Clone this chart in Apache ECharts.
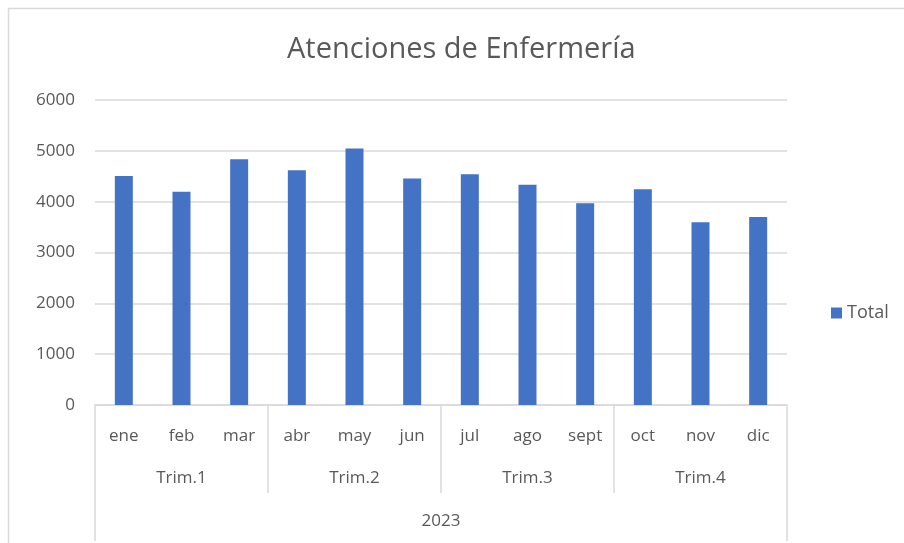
<!DOCTYPE html>
<html>
<head>
<meta charset="utf-8">
<script src="https://cdn.jsdelivr.net/npm/echarts@6/dist/echarts.min.js"></script>
<style>html,body{margin:0;padding:0;background:#fff}#c{width:904px;height:543px}</style>
</head>
<body>
<div id="c"></div>
<script>
var months = ['ene','feb','mar','abr','may','jun','jul','ago','sept','oct','nov','dic'];
var quarters = ['Trim.1','Trim.2','Trim.3','Trim.4'];
var years = ['2023'];
var totals = [4505, 4195, 4835, 4620, 5045, 4455, 4540, 4335, 3970, 4245, 3595, 3700];
var seriesName = 'Total';
var titleText = 'Atenciones de Enfermería';

var FONT = '"Open Sans", "Noto Sans", sans-serif';
var TXT = '#595959';
var LINE = '#d9d9d9';

var chart = echarts.init(document.getElementById('c'), null, {renderer:'canvas'});
chart.setOption({
  animation: false,
  backgroundColor: '#fff',
  title: {
    text: titleText, left: 282, top: 30,
    textStyle: {fontFamily: FONT, fontSize: 29, fontWeight: 'normal', color: TXT}
  },
  legend: {
    data: [seriesName], left: 826, top: 299, icon: 'rect', itemWidth: 11, itemHeight: 11, itemGap: 6,
    itemStyle: {borderWidth: 0},
    textStyle: {fontFamily: FONT, fontSize: 18, color: TXT}
  },
  grid: {left: 95, right: 117, top: 100, bottom: 138, containLabel: false},
  yAxis: {
    type: 'value', min: 0, max: 6000, interval: 1000,
    axisLine: {show: false}, axisTick: {show: false},
    axisLabel: {fontFamily: FONT, fontSize: 17, color: TXT, margin: 20, formatter: function (v) { return String(v); }},
    splitLine: {lineStyle: {color: LINE, width: 1.5}}
  },
  xAxis: [
    {
      type: 'category', data: months, position: 'bottom', offset: 0,
      axisLine: {lineStyle: {color: LINE, width: 1.5}},
      axisTick: {show: false},
      axisLabel: {fontFamily: FONT, fontSize: 17, color: TXT, margin: 23, interval: 0}
    },
    {
      type: 'category', data: quarters, position: 'bottom', offset: 0,
      axisLine: {show: false},
      axisTick: {show: true, length: 88, lineStyle: {color: LINE, width: 1.5}},
      axisLabel: {fontFamily: FONT, fontSize: 17, color: TXT, margin: 65, interval: 0}
    },
    {
      type: 'category', data: years, position: 'bottom', offset: 0,
      axisLine: {show: false},
      axisTick: {show: true, length: 136, lineStyle: {color: LINE, width: 1.5}},
      axisLabel: {fontFamily: FONT, fontSize: 17, color: TXT, margin: 108, interval: 0}
    }
  ],
  series: [{
    name: seriesName, type: 'bar', xAxisIndex: 0, data: totals,
    barWidth: 18, itemStyle: {color: '#4472C4'}
  }],
  graphic: [{
    type: 'rect', left: 6, top: 6, silent: true,
    shape: {width: 940, height: 600},
    style: {fill: 'none', stroke: LINE, lineWidth: 1.5}
  }]
});
</script>
</body>
</html>
